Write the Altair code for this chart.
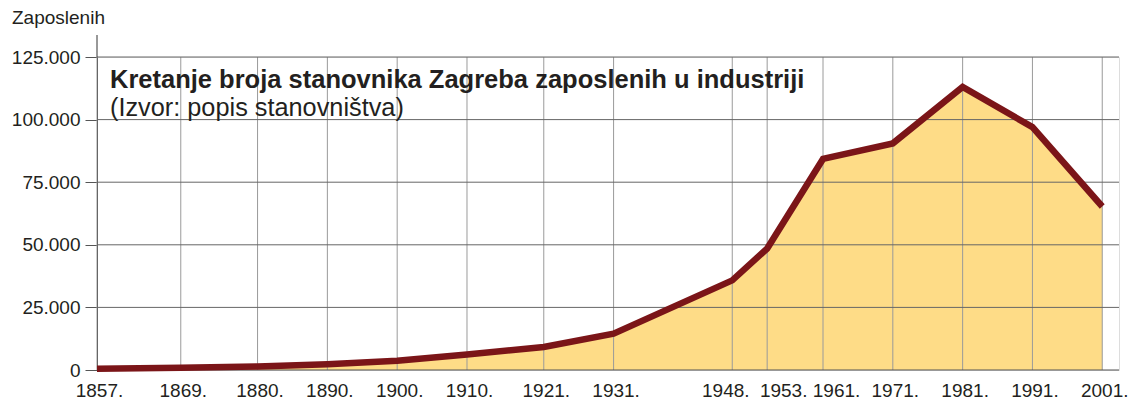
import altair as alt
import pandas as pd

years = [1857, 1869, 1880, 1890, 1900, 1910, 1921, 1931, 1948, 1953, 1961, 1971, 1981, 1991, 2001]
employed = [500, 900, 1400, 2300, 3700, 6200, 9200, 14500, 35800, 48500, 84300, 90500, 113000, 97000, 65300]
y_ticks = [0, 25000, 50000, 75000, 100000, 125000]

title_text = "Kretanje broja stanovnika Zagreba zaposlenih u industriji"
subtitle_text = "(Izvor: popis stanovništva)"
y_title = "Zaposlenih"

X_MIN, X_MAX = 1857, 2003.4
Y_MAX = 125000
FONT = "Liberation Sans"

df = pd.DataFrame({"year": years, "value": employed})
df_v = pd.DataFrame({"year": years, "y0": [0] * len(years), "y1": [Y_MAX] * len(years)})
df_h = pd.DataFrame({"v": y_ticks[1:], "x0": [X_MIN] * 5, "x1": [X_MAX] * 5})

xs = alt.Scale(domain=[X_MIN, X_MAX], nice=False, zero=False)
ys = alt.Scale(domain=[0, Y_MAX], nice=False)

# crowded labels (1948/1953/1961) are nudged apart as in the original
label_offset = alt.expr(
    "datum.value == 1948 ? -7 : datum.value == 1953 ? 16 : datum.value == 1961 ? 13 : 2"
)

area = alt.Chart(df).mark_area(color="#fedc87", opacity=1).encode(
    x=alt.X("year:Q", scale=xs,
            axis=alt.Axis(values=years, labelExpr="datum.value + '.'", grid=False,
                          ticks=False, domain=False, labelFontSize=19, labelFont=FONT,
                          labelColor="#231f20", labelPadding=11, title=None,
                          labelOffset=label_offset,
                          labelOverlap=False, labelFlush=False)),
    y=alt.Y("value:Q", scale=ys,
            axis=alt.Axis(values=y_ticks,
                          labelExpr="datum.value == 0 ? '0' : format(datum.value/1000, 'd') + '.000'",
                          grid=False, ticks=True, tickSize=12, tickColor="#555555",
                          domain=True, domainColor="#333333", labelFontSize=19,
                          labelFont=FONT, labelColor="#231f20", labelPadding=5, title=None)),
)

vgrid = alt.Chart(df_v).mark_rule(color="#9a9a9a", strokeWidth=1).encode(
    x=alt.X("year:Q", scale=xs), y=alt.Y("y0:Q", scale=ys), y2="y1:Q"
)
hgrid = alt.Chart(df_h).mark_rule(color="#666666", strokeWidth=1).encode(
    y=alt.Y("v:Q", scale=ys), x=alt.X("x0:Q", scale=xs), x2="x1:Q"
)
baseline = alt.Chart(pd.DataFrame({"v": [0], "x0": [X_MIN], "x1": [X_MAX]})).mark_rule(
    color="#555555", strokeWidth=1.2).encode(
    y=alt.Y("v:Q", scale=ys), x=alt.X("x0:Q", scale=xs), x2="x1:Q"
)
axis_ext = alt.Chart(pd.DataFrame({"a": [0]})).mark_rule(color="#333333", strokeWidth=1).encode(
    x=alt.value(0), y=alt.value(-22), y2=alt.value(0)
)

line = alt.Chart(df).mark_line(color="#7b1518", strokeWidth=6.5).encode(
    x=alt.X("year:Q", scale=xs), y=alt.Y("value:Q", scale=ys)
)

texts = alt.Chart(pd.DataFrame({"a": [0]}))
t_title = texts.mark_text(text=title_text, font=FONT, fontSize=25.5, fontWeight="bold",
                          align="left", baseline="alphabetic", color="#231f20").encode(
    x=alt.value(13), y=alt.value(31))
t_sub = texts.mark_text(text=subtitle_text, font=FONT, fontSize=25.3,
                        align="left", baseline="alphabetic", color="#231f20").encode(
    x=alt.value(13), y=alt.value(59))
t_y = texts.mark_text(text=y_title, font=FONT, fontSize=19,
                      align="left", baseline="middle", color="#231f20").encode(
    x=alt.value(-85), y=alt.value(-39))

chart = alt.layer(area, vgrid, hgrid, baseline, axis_ext, line, t_title, t_sub, t_y).properties(
    width=1022, height=313,
    autosize=alt.AutoSizeParams(type="none"),
    padding={"left": 89, "top": 49, "right": 9, "bottom": 30},
).configure_view(stroke=None).configure(background="white")

chart.save("out.html", embed_options={"renderer": "svg", "actions": False})
